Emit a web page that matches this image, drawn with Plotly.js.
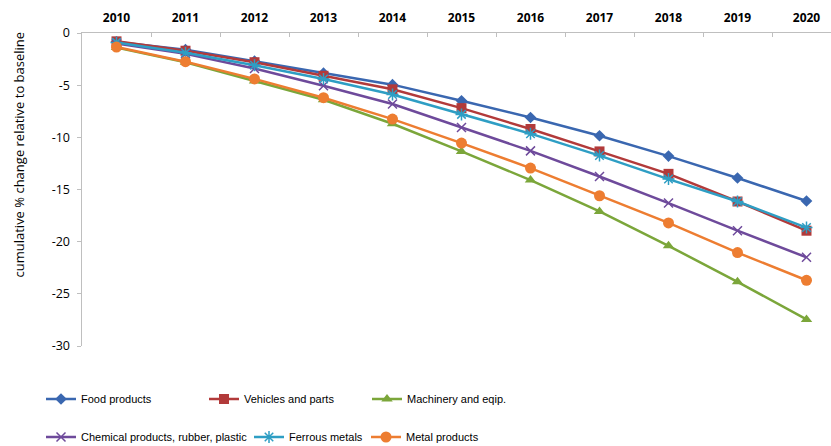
<!DOCTYPE html>
<html><head><meta charset="utf-8">
<script src="https://cdn.plot.ly/plotly-3.0.1.min.js"></script>
<style>html,body{margin:0;padding:0;background:#fff}#chart{width:831px;height:446px}</style>
</head><body><div id="chart"></div>
<script>
var years = ['2010','2011','2012','2013','2014','2015','2016','2017','2018','2019','2020'];
var food       = [-0.85,-1.6,-2.7,-3.85,-4.95,-6.5,-8.1,-9.85,-11.8,-13.9,-16.1];
var vehicles   = [-0.8,-1.7,-2.8,-4.1,-5.4,-7.2,-9.2,-11.35,-13.5,-16.15,-18.95];
var machinery  = [-1.4,-2.8,-4.6,-6.4,-8.7,-11.35,-14.1,-17.1,-20.4,-23.85,-27.45];
var chemical   = [-1.0,-2.0,-3.4,-5.05,-6.8,-9.05,-11.3,-13.75,-16.3,-18.95,-21.5];
var ferrous    = [-0.9,-1.9,-3.1,-4.4,-5.9,-7.8,-9.65,-11.75,-14.0,-16.15,-18.65];
var metal      = [-1.35,-2.75,-4.4,-6.2,-8.25,-10.55,-12.95,-15.6,-18.2,-21.05,-23.7];

var yTickVals = [0,-5,-10,-15,-20,-25,-30];
var yTickText = ['0','-5','-10','-15','-20','-25','-30'];
var yTitle = 'cumulative % change relative to baseline';

var names = ['Food products','Vehicles and parts','Machinery and eqip.','Chemical products, rubber, plastic','Ferrous metals','Metal products'];
var series = [food, vehicles, machinery, chemical, ferrous, metal];
var colors = ['#3A67B0','#B23A3A','#7BA63A','#6E4A9B','#2E9EC4','#ED7D31'];
var symbols = ['diamond','square','triangle-up','x-thin-open','asterisk-open','circle'];
var sizes = [9,10,10,9,10,11];
var legends = ['legend','legend','legend','legend2','legend3','legend3'];

var traces = series.map(function(s,i){
  var m = {symbol: symbols[i], size: sizes[i], color: colors[i]};
  if (symbols[i].indexOf('open')>=0) m.line = {color: colors[i], width: 1.5};
  return {
    x: years, y: s, name: names[i], type: 'scatter', mode: 'lines+markers',
    line: {color: colors[i], width: 2.5}, marker: m, legend: legends[i], hoverinfo: 'skip'
  };
});

function legBase(xPix, yPix, ew){
  return {orientation: 'h', xref: 'container', yref: 'container', x: xPix/831, y: 1-yPix/446,
    yanchor: 'middle', xanchor: 'left', entrywidth: ew, itemwidth: 30,
    font: {family: '"Liberation Sans", Arial, sans-serif', size: 11, color: '#000'},
    bgcolor: 'rgba(0,0,0,0)'};
}
var layout = {
  width: 831, height: 446,
  margin: {l: 82, r: 0, t: 33, b: 100, autoexpand: false},
  paper_bgcolor: '#fff', plot_bgcolor: '#fff',
  font: {family: '"Open Sans", sans-serif', size: 12, color: '#000'},
  showlegend: true,
  xaxis: {
    type: 'category', side: 'top', range: [-0.5, 10.355],
    tickson: 'boundaries', ticks: 'inside', ticklen: 4, tickcolor: '#BFBFBF',
    showline: true, linecolor: '#BFBFBF', linewidth: 1.5, showgrid: false, zeroline: false,
    ticklabelstandoff: 5,
    tickfont: {family: '"Open Sans", sans-serif', size: 12, weight: 'bold', color: '#000'}
  },
  yaxis: {
    range: [-30, 0], tickmode: 'array', tickvals: yTickVals, ticktext: yTickText,
    ticks: 'outside', ticklen: 4, tickcolor: '#BFBFBF', ticklabelstandoff: 4,
    showline: true, linecolor: '#BFBFBF', linewidth: 1.5, showgrid: false, zeroline: false,
    tickfont: {family: '"Open Sans", sans-serif', size: 12.5, color: '#000'}
  },
  annotations: [{
    text: yTitle, xref: 'paper', yref: 'paper', x: (18-82)/749, y: (346-154.5)/313,
    xanchor: 'center', yanchor: 'middle', textangle: -90, showarrow: false,
    font: {family: '"Open Sans", sans-serif', size: 13, color: '#000'}
  }],
  legend: legBase(41, 399, 118),
  legend2: legBase(41, 437, 200),
  legend3: legBase(249, 437, 72)
};
Plotly.newPlot('chart', traces, layout, {displayModeBar: false, staticPlot: true});
</script></body></html>
